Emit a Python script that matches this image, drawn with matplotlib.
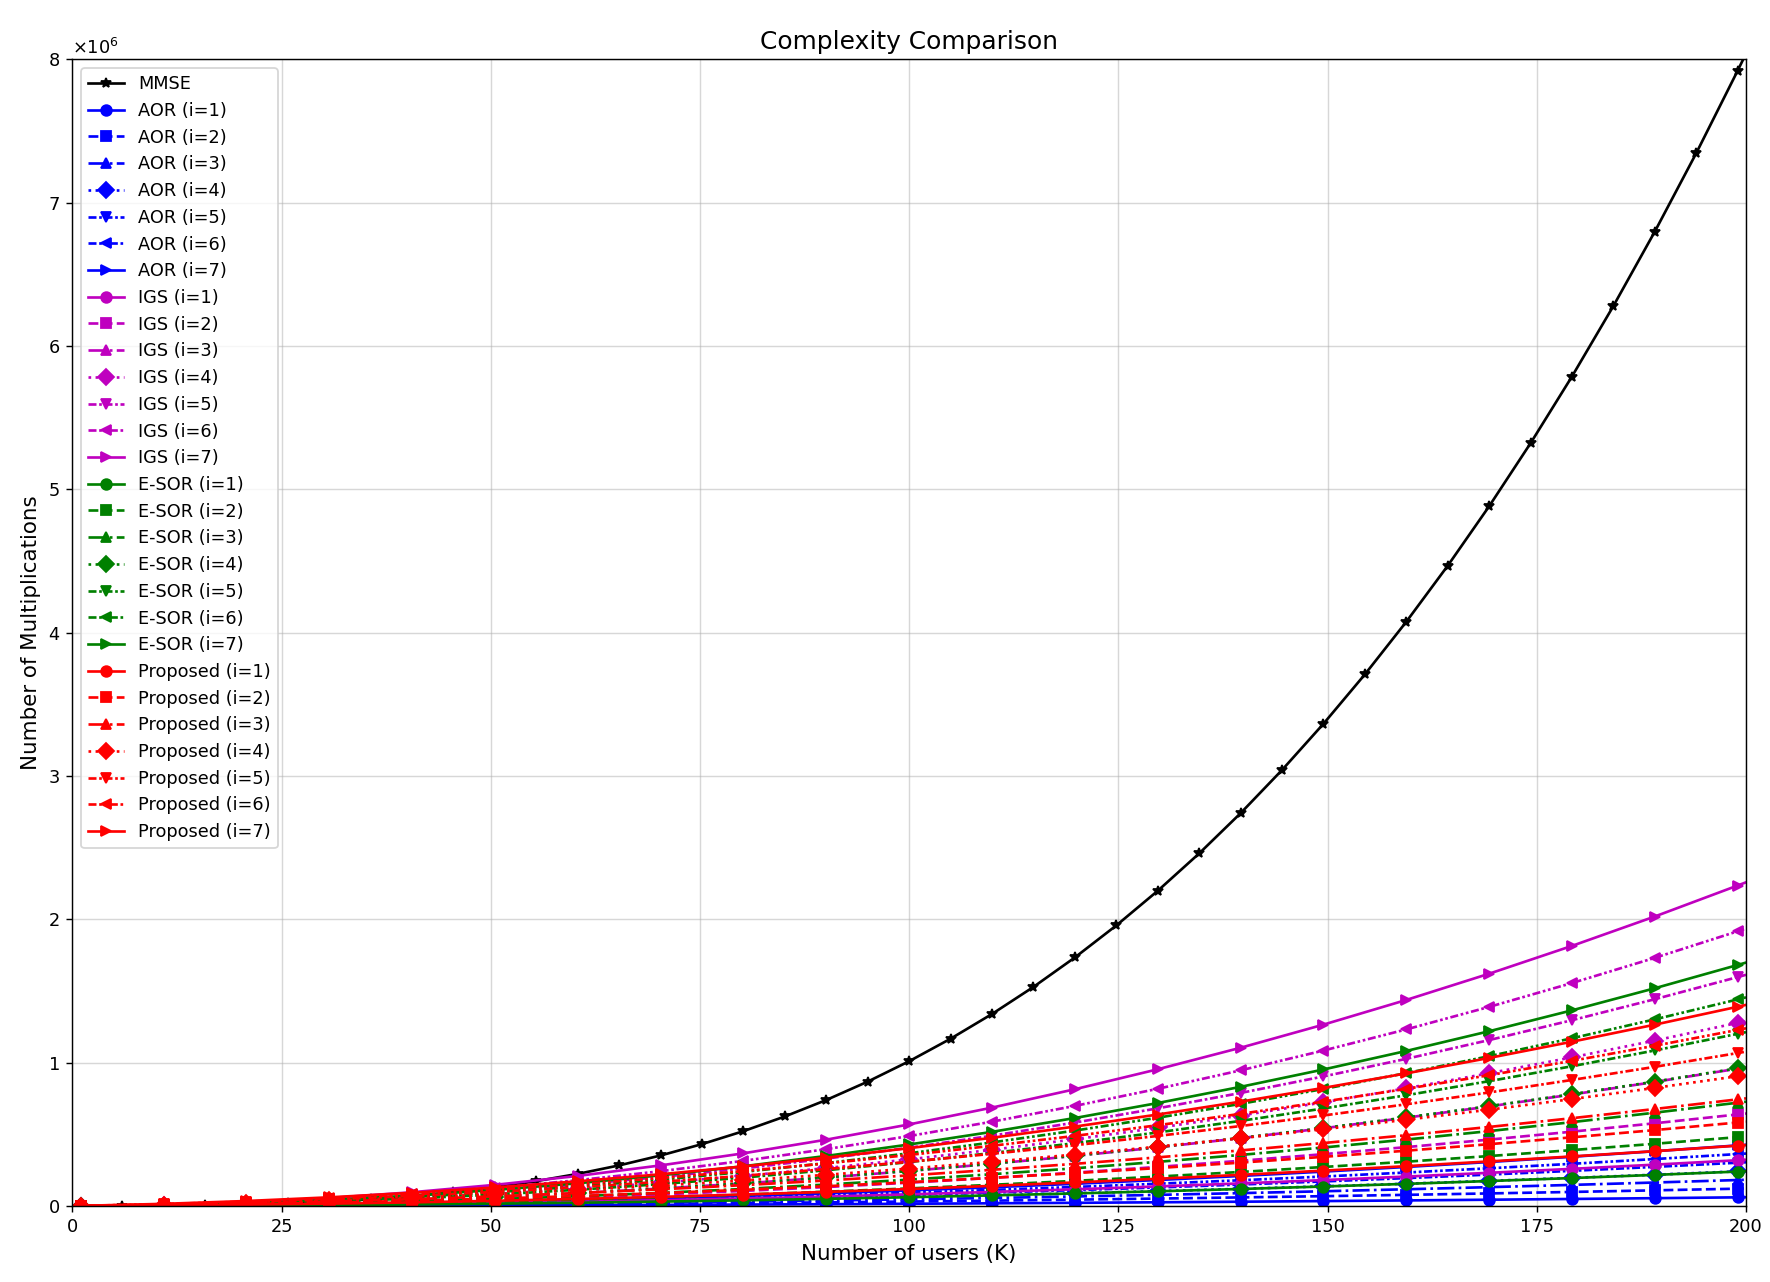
import matplotlib
matplotlib.use("Agg")
import matplotlib.pyplot as plt
from matplotlib.ticker import ScalarFormatter

DPI = 128
# ---------------- data (values in thousands of multiplications) ----------------
K_mmse = [1, 5.95, 10.9, 15.85, 20.8, 25.75, 30.7, 35.65, 40.6, 45.55, 50.5, 55.45,
          60.4, 65.35, 70.3, 75.25, 80.2, 85.15, 90.1, 95.05, 100, 104.95, 109.9,
          114.85, 119.8, 124.75, 129.7, 134.65, 139.6, 144.55, 149.5, 154.45, 159.4,
          164.35, 169.3, 174.25, 179.2, 184.15, 189.1, 194.05, 199, 200]
mmse = [0.002, 0.246, 1.414, 4.233, 9.432, 17.737, 29.877, 46.579, 68.572, 96.582,
        131.338, 173.567, 223.997, 283.356, 352.371, 431.770, 522.282, 624.633,
        739.551, 867.764, 1010.000, 1166.987, 1339.451, 1528.122, 1733.726, 1956.993,
        2198.647, 2459.419, 2740.035, 3041.224, 3363.712, 3708.229, 4075.501,
        4466.256, 4881.222, 5321.126, 5786.698, 6278.662, 6797.750, 7344.685,
        7920.200, 8040.000]

K = [1, 10.9, 20.8, 30.7, 40.6, 50.5, 60.4, 70.3, 80.2, 90.1, 100, 109.9, 119.8,
     129.7, 139.6, 149.5, 159.4, 169.3, 179.2, 189.1, 199, 200]

aor_1 = [0.0, 0.2, 0.8, 1.6, 2.7, 4.1, 5.8, 7.8, 10.0, 12.6, 15.5, 18.7, 22.1, 25.9, 29.9, 34.3, 38.9, 43.8, 49.1, 54.6, 60.4, 61.0]
aor_2 = [0.0, 0.5, 1.5, 3.1, 5.4, 8.2, 11.5, 15.5, 20.1, 25.3, 31.0, 37.3, 44.3, 51.8, 59.9, 68.5, 77.8, 87.7, 98.1, 109.2, 120.8, 122.0]
aor_3 = [0.0, 0.7, 2.3, 4.7, 8.0, 12.2, 17.3, 23.3, 30.1, 37.9, 46.5, 56.0, 66.4, 77.6, 89.8, 102.8, 116.7, 131.5, 147.2, 163.8, 181.2, 183.0]
aor_4 = [0.0, 0.9, 3.0, 6.3, 10.7, 16.3, 23.1, 31.1, 40.2, 50.5, 62.0, 74.7, 88.5, 103.5, 119.7, 137.1, 155.6, 175.4, 196.3, 218.3, 241.6, 244.0]
aor_5 = [0.0, 1.2, 3.8, 7.8, 13.4, 20.4, 28.9, 38.8, 50.2, 63.1, 77.5, 93.3, 110.6, 129.4, 149.7, 171.4, 194.6, 219.2, 245.3, 272.9, 302.0, 305.0]
aor_6 = [0.0, 1.4, 4.5, 9.4, 16.1, 24.5, 34.6, 46.6, 60.3, 75.8, 93.0, 112.0, 132.8, 155.3, 179.6, 205.6, 233.5, 263.0, 294.4, 327.5, 362.4, 366.0]
aor_7 = [0.0, 1.6, 5.3, 11.0, 18.7, 28.5, 40.4, 54.4, 70.3, 88.4, 108.5, 130.7, 154.9, 181.2, 209.5, 239.9, 272.4, 306.9, 343.5, 382.1, 422.8, 427.0]

igs_1 = [0.0, 1.1, 3.7, 7.9, 13.7, 21.1, 30.0, 40.5, 52.5, 66.1, 81.3, 98.1, 116.4, 136.3, 157.7, 180.7, 205.3, 231.5, 259.2, 288.5, 319.4, 322.6]
igs_2 = [0.0, 2.2, 7.5, 15.9, 27.4, 42.1, 59.9, 80.9, 105.0, 132.2, 162.6, 196.1, 232.7, 272.5, 315.4, 361.5, 410.7, 463.0, 518.5, 577.1, 638.8, 645.2]
igs_3 = [0.1, 3.3, 11.2, 23.8, 41.1, 63.2, 89.9, 121.4, 157.5, 198.3, 243.9, 294.2, 349.1, 408.8, 473.2, 542.2, 616.0, 694.5, 777.7, 865.6, 958.2, 967.8]
igs_4 = [0.1, 4.4, 14.9, 31.8, 54.9, 84.2, 119.9, 161.8, 210.0, 264.5, 325.2, 392.2, 465.5, 545.1, 630.9, 723.0, 821.4, 926.0, 1036.9, 1154.1, 1277.6, 1290.4]
igs_5 = [0.1, 5.5, 18.7, 39.7, 68.6, 105.3, 149.9, 202.3, 262.5, 330.6, 406.5, 490.3, 581.9, 681.3, 788.6, 903.7, 1026.7, 1157.5, 1296.2, 1442.6, 1597.0, 1613.0]
igs_6 = [0.1, 6.6, 22.4, 47.6, 82.3, 126.4, 179.8, 242.7, 315.0, 396.7, 487.8, 588.3, 698.2, 817.6, 946.3, 1084.5, 1232.0, 1389.0, 1555.4, 1731.2, 1916.4, 1935.6]
igs_7 = [0.1, 7.6, 26.1, 55.6, 96.0, 147.4, 209.8, 283.2, 367.5, 462.8, 569.1, 686.4, 814.6, 953.8, 1104.0, 1265.2, 1437.4, 1620.5, 1814.6, 2019.7, 2235.8, 2258.2]

esor_1 = [0.0, 0.9, 2.9, 6.1, 10.4, 16.0, 22.7, 30.6, 39.6, 49.9, 61.3, 73.9, 87.7, 102.6, 118.7, 136.0, 154.5, 174.2, 195.0, 217.0, 240.2, 242.6]
esor_2 = [0.0, 1.7, 5.7, 12.1, 20.8, 31.9, 45.3, 61.1, 79.3, 99.8, 122.6, 147.8, 175.3, 205.2, 237.5, 272.1, 309.0, 348.4, 390.0, 434.0, 480.4, 485.2]
esor_3 = [0.1, 2.6, 8.6, 18.2, 31.3, 47.9, 68.0, 91.7, 118.9, 149.6, 183.9, 221.7, 263.0, 307.9, 356.2, 408.1, 463.6, 522.5, 585.0, 651.0, 720.6, 727.8]
esor_4 = [0.1, 3.4, 11.5, 24.2, 41.7, 63.8, 90.7, 122.3, 158.5, 199.5, 245.2, 295.6, 350.7, 410.5, 475.0, 544.2, 618.1, 696.7, 780.0, 868.0, 960.8, 970.4]
esor_5 = [0.1, 4.3, 14.3, 30.3, 52.1, 79.8, 113.4, 152.8, 198.2, 249.4, 306.5, 369.5, 438.4, 513.1, 593.7, 680.2, 772.6, 870.9, 975.0, 1085.1, 1201.0, 1213.0]
esor_6 = [0.1, 5.1, 17.2, 36.3, 62.5, 95.7, 136.0, 183.4, 237.8, 299.3, 367.8, 443.4, 526.0, 615.7, 712.5, 816.3, 927.1, 1045.1, 1170.0, 1302.1, 1441.2, 1455.6]
esor_7 = [0.1, 6.0, 20.1, 42.4, 72.9, 111.7, 158.7, 214.0, 277.4, 349.2, 429.1, 517.3, 613.7, 718.3, 831.2, 952.3, 1081.7, 1219.2, 1365.0, 1519.1, 1681.4, 1698.2]

prop_1 = [0.3, 3.8, 9.2, 16.4, 25.4, 36.3, 49.1, 63.7, 80.1, 98.4, 118.5, 140.5, 164.3, 189.9, 217.4, 246.7, 277.9, 310.9, 345.8, 382.5, 421.0, 425.0]
prop_2 = [0.4, 5.7, 13.4, 23.7, 36.5, 51.8, 69.6, 90.0, 112.8, 138.1, 166.0, 196.4, 229.2, 264.6, 302.5, 342.9, 385.8, 431.2, 479.1, 529.6, 582.5, 588.0]
prop_3 = [0.5, 7.5, 17.7, 31.1, 47.6, 67.3, 90.2, 116.3, 145.5, 177.9, 213.5, 252.3, 294.2, 339.3, 387.6, 439.1, 493.7, 551.5, 612.5, 676.7, 744.0, 751.0]
prop_4 = [0.7, 9.4, 22.0, 38.4, 58.7, 82.8, 110.8, 142.6, 178.2, 217.7, 261.0, 308.2, 359.2, 414.0, 472.7, 535.2, 601.6, 671.8, 745.9, 823.8, 905.5, 914.0]
prop_5 = [0.8, 11.3, 26.3, 45.8, 69.8, 98.3, 131.3, 168.9, 210.9, 257.4, 308.5, 364.1, 424.1, 488.7, 557.8, 631.4, 709.5, 792.1, 879.3, 970.9, 1067.0, 1077.0]
prop_6 = [0.9, 13.2, 30.6, 53.1, 80.9, 113.8, 151.9, 195.2, 243.6, 297.2, 356.0, 420.0, 489.1, 563.4, 642.9, 727.6, 817.4, 912.4, 1012.6, 1118.0, 1228.5, 1240.0]
prop_7 = [1.1, 15.0, 34.8, 60.5, 92.0, 129.3, 172.4, 221.4, 276.3, 337.0, 403.5, 475.9, 554.1, 638.1, 728.0, 823.8, 925.3, 1032.8, 1146.0, 1265.1, 1390.1, 1403.0]

methods = [
    ("AOR", "b", [aor_1, aor_2, aor_3, aor_4, aor_5, aor_6, aor_7]),
    ("IGS", "m", [igs_1, igs_2, igs_3, igs_4, igs_5, igs_6, igs_7]),
    ("E-SOR", "g", [esor_1, esor_2, esor_3, esor_4, esor_5, esor_6, esor_7]),
    ("Proposed", "r", [prop_1, prop_2, prop_3, prop_4, prop_5, prop_6, prop_7]),
]
markers = ["o", "s", "^", "D", "v", "<", ">"]
styles = ["-", "--", "-.", ":", (0, (3, 1, 1, 1)), (0, (3, 1, 1, 1, 1, 1)), "-"]

# ---------------- figure ----------------
fig = plt.figure(figsize=(1770 / DPI, 1282 / DPI), dpi=DPI)
ax = fig.add_axes([72.3 / 1770, 1 - 1206 / 1282, (1746 - 72.3) / 1770, (1206 - 59.3) / 1282])

SCALE = 1000.0
ax.plot(K_mmse, [v * SCALE for v in mmse], color="k", marker="*", linestyle="-",
        label="MMSE", markevery=slice(0, len(K_mmse) - 1))
for name, col, series in methods:
    for i, vals in enumerate(series):
        ax.plot(K, [v * SCALE for v in vals], color=col, marker=markers[i],
                linestyle=styles[i], label=f"{name} (i={i + 1})",
                markevery=slice(0, len(K) - 1))

ax.set_xlim(0, 200)
ax.set_ylim(0, 8e6)
fmt = ScalarFormatter(useMathText=True)
fmt.set_powerlimits((0, 0))
ax.yaxis.set_major_formatter(fmt)
ax.grid(True, alpha=0.5)
ax.set_title("Complexity Comparison", fontsize=14)
ax.set_xlabel("Number of users (K)", fontsize=12)
ax.set_ylabel("Number of Multiplications", fontsize=12)
ax.legend(loc="upper left", fontsize=10, labelspacing=0.49)

fig.savefig("out.png", dpi=DPI)
